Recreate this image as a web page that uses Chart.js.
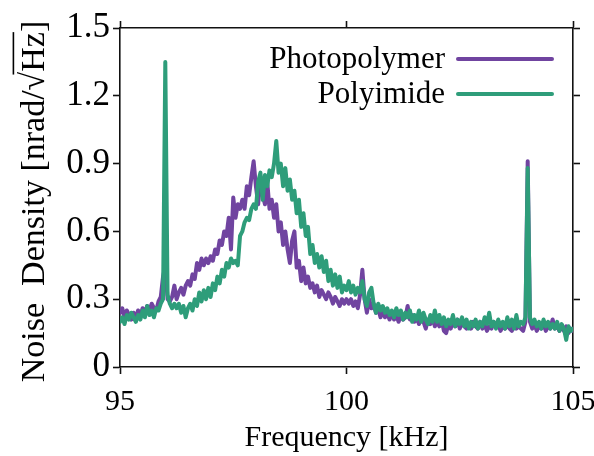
<!DOCTYPE html>
<html>
<head>
<meta charset="utf-8">
<script src="https://cdn.jsdelivr.net/npm/chart.js@4.4.1/dist/chart.umd.min.js"></script>
<style>
  html, body { margin: 0; padding: 0; background: #fff; }
  #wrap { width: 594px; height: 456px; }
</style>
</head>
<body>
<div id="wrap"><canvas id="chart" width="594" height="456"></canvas></div>
<script>
// sweep: 95 kHz .. 105 kHz in 0.05 kHz steps
const FREQ_START = 95;
const FREQ_STEP = 0.05;
const X_TICKS = [95, 100, 105];
const Y_TICKS = [0, 0.3, 0.6, 0.9, 1.2, 1.5];
const SERIES_NAMES = ['Photopolymer', 'Polyimide'];

const PHOTOPOLYMER = [
  0.24, 0.26, 0.22, 0.25, 0.23, 0.21, 0.24, 0.22, 0.25, 0.23, // 95.0
  0.26, 0.24, 0.27, 0.25, 0.28, 0.26, 0.25, 0.29, 0.31, 0.40, // 95.5
  0.45, 0.30, 0.29, 0.31, 0.36, 0.30, 0.33, 0.35, 0.32, 0.36, // 96.0
  0.38, 0.36, 0.41, 0.39, 0.46, 0.43, 0.48, 0.45, 0.48, 0.46, // 96.5
  0.49, 0.47, 0.52, 0.50, 0.56, 0.54, 0.60, 0.58, 0.66, 0.52, // 97.0
  0.75, 0.66, 0.72, 0.70, 0.74, 0.70, 0.80, 0.76, 0.84, 0.91, // 97.5
  0.80, 0.72, 0.84, 0.76, 0.72, 0.82, 0.70, 0.74, 0.66, 0.72, // 98.0
  0.60, 0.64, 0.54, 0.60, 0.52, 0.46, 0.56, 0.60, 0.44, 0.47, // 98.5
  0.38, 0.44, 0.37, 0.40, 0.35, 0.37, 0.33, 0.36, 0.31, 0.34, // 99.0
  0.32, 0.30, 0.33, 0.31, 0.28, 0.31, 0.29, 0.27, 0.30, 0.28, // 99.5
  0.30, 0.28, 0.30, 0.27, 0.29, 0.26, 0.32, 0.43, 0.30, 0.24, // 100.0
  0.30, 0.26, 0.28, 0.24, 0.26, 0.22, 0.25, 0.22, 0.24, 0.21, // 100.5
  0.24, 0.21, 0.23, 0.20, 0.23, 0.21, 0.22, 0.27, 0.21, 0.23, // 101.0
  0.20, 0.22, 0.19, 0.22, 0.20, 0.17, 0.21, 0.19, 0.22, 0.18, // 101.5
  0.20, 0.18, 0.21, 0.16, 0.15, 0.19, 0.17, 0.20, 0.18, 0.21, // 102.0
  0.17, 0.20, 0.18, 0.17, 0.19, 0.17, 0.20, 0.18, 0.17, 0.20, // 102.5
  0.17, 0.19, 0.16, 0.18, 0.17, 0.20, 0.18, 0.19, 0.16, 0.18, // 103.0
  0.17, 0.19, 0.17, 0.16, 0.19, 0.17, 0.18, 0.17, 0.16, 0.20, // 103.5
  0.91, 0.20, 0.17, 0.19, 0.16, 0.18, 0.17, 0.19, 0.16, 0.18, // 104.0
  0.17, 0.21, 0.17, 0.18, 0.16, 0.18, 0.16, 0.18, 0.15, 0.17, // 104.5
  0.16                                                        // 105.0
];

const POLYIMIDE = [
  0.20, 0.22, 0.19, 0.23, 0.21, 0.24, 0.22, 0.20, 0.23, 0.21, // 95.0
  0.25, 0.22, 0.27, 0.23, 0.25, 0.22, 0.26, 0.25, 0.28, 0.30, // 95.5
  1.35, 0.32, 0.28, 0.26, 0.28, 0.26, 0.28, 0.24, 0.27, 0.22, // 96.0
  0.26, 0.28, 0.25, 0.30, 0.27, 0.33, 0.29, 0.34, 0.30, 0.35, // 96.5
  0.31, 0.37, 0.34, 0.40, 0.37, 0.43, 0.40, 0.46, 0.44, 0.48, // 97.0
  0.46, 0.47, 0.45, 0.58, 0.60, 0.64, 0.66, 0.65, 0.70, 0.72, // 97.5
  0.70, 0.82, 0.86, 0.74, 0.85, 0.80, 0.87, 0.84, 0.90, 1.00, // 98.0
  0.86, 0.90, 0.80, 0.88, 0.78, 0.83, 0.74, 0.78, 0.68, 0.74, // 98.5
  0.62, 0.68, 0.58, 0.62, 0.50, 0.54, 0.46, 0.50, 0.44, 0.49, // 99.0
  0.42, 0.47, 0.38, 0.43, 0.36, 0.41, 0.35, 0.40, 0.33, 0.36, // 99.5
  0.34, 0.38, 0.33, 0.36, 0.32, 0.35, 0.33, 0.38, 0.30, 0.27, // 100.0
  0.33, 0.35, 0.28, 0.24, 0.28, 0.25, 0.27, 0.24, 0.26, 0.23, // 100.5
  0.25, 0.22, 0.26, 0.23, 0.25, 0.21, 0.24, 0.22, 0.25, 0.20, // 101.0
  0.23, 0.21, 0.25, 0.20, 0.24, 0.21, 0.19, 0.23, 0.20, 0.25, // 101.5
  0.20, 0.23, 0.19, 0.22, 0.18, 0.21, 0.19, 0.23, 0.18, 0.21, // 102.0
  0.19, 0.22, 0.18, 0.21, 0.17, 0.20, 0.18, 0.21, 0.17, 0.20, // 102.5
  0.18, 0.22, 0.19, 0.24, 0.18, 0.20, 0.17, 0.21, 0.18, 0.20, // 103.0
  0.17, 0.22, 0.18, 0.21, 0.17, 0.23, 0.18, 0.20, 0.19, 0.22, // 103.5
  0.88, 0.22, 0.19, 0.21, 0.18, 0.20, 0.17, 0.21, 0.18, 0.20, // 104.0
  0.17, 0.19, 0.17, 0.20, 0.16, 0.19, 0.17, 0.12, 0.18, 0.16, // 104.5
  0.17                                                        // 105.0
];

const PURPLE = '#7044a0';
const GREEN = '#2e9d7a';
const SERIF = "'Liberation Serif', 'Times New Roman', serif";
const AXIS_COLOR = '#111';

const freqs = PHOTOPOLYMER.map((_, i) => +(FREQ_START + i * FREQ_STEP).toFixed(2));
const toPoints = ys => ys.map((y, i) => ({ x: freqs[i], y }));

// plot box in canvas pixels
const BOX = { left: 120, top: 28, right: 573, bottom: 367 };

const setTicks = list => scale => { scale.ticks = list.map(v => ({ value: v })); };

// keep tick labels from pushing the plot box around
const noOverhang = s => { s.paddingLeft = 0; s.paddingRight = 0; s.paddingTop = 0; s.paddingBottom = 0; };

function frameScale(extra) {
  return Object.assign({
    border: { display: true, color: AXIS_COLOR, width: 1.6 },
    grid: { display: true, drawOnChartArea: false, drawTicks: true, tickLength: 7, tickColor: AXIS_COLOR, tickWidth: 1.6 },
  }, extra);
}

// y title with the radical overline over Hz
const yTitlePlugin = {
  id: 'yTitle',
  afterDraw(chart) {
    const { ctx, chartArea } = chart;
    const size = 34;
    const pre = 'Noise  Density [nrad/';
    const rad = '\u221A';
    const hz = 'Hz';
    const post = ']';
    ctx.save();
    ctx.font = `${size}px ${SERIF}`;
    const wPre = ctx.measureText(pre).width;
    const wRad = ctx.measureText(rad).width;
    const wHz = ctx.measureText(hz).width;
    const total = ctx.measureText(pre + rad + hz + post).width;
    ctx.translate(44, (chartArea.top + chartArea.bottom) / 2 + 4);
    ctx.rotate(-Math.PI / 2);
    ctx.textAlign = 'left';
    ctx.textBaseline = 'alphabetic';
    ctx.fillStyle = '#000';
    const x0 = -total / 2;
    ctx.fillText(pre + rad + hz + post, x0, 0);
    ctx.strokeStyle = '#000';
    ctx.lineWidth = 1.6;
    ctx.beginPath();
    ctx.moveTo(x0 + wPre + wRad * 0.85, -0.9 * size);
    ctx.lineTo(x0 + wPre + wRad + wHz, -0.9 * size);
    ctx.stroke();
    ctx.restore();
  }
};

// legend: text right-aligned, line sample to its right
const legendPlugin = {
  id: 'sideLegend',
  afterDraw(chart) {
    const { ctx, chartArea } = chart;
    const lineEnd = chartArea.right - 21;
    const lineStart = lineEnd - 94;
    const colors = [PURPLE, GREEN];
    ctx.save();
    ctx.font = `31px ${SERIF}`;
    ctx.textAlign = 'right';
    ctx.textBaseline = 'middle';
    SERIES_NAMES.forEach((name, i) => {
      const y = chartArea.top + 31 + i * 35;
      ctx.fillStyle = '#000';
      ctx.fillText(name, lineStart - 13, y + 1);
      ctx.strokeStyle = colors[i];
      ctx.lineWidth = 4;
      ctx.lineCap = 'round';
      ctx.beginPath();
      ctx.moveTo(lineStart, y);
      ctx.lineTo(lineEnd, y);
      ctx.stroke();
    });
    ctx.restore();
  }
};

new Chart(document.getElementById('chart'), {
  type: 'line',
  data: {
    datasets: [
      { label: SERIES_NAMES[0], data: toPoints(PHOTOPOLYMER), borderColor: PURPLE, order: 1 },
      { label: SERIES_NAMES[1], data: toPoints(POLYIMIDE), borderColor: GREEN, order: 0 },
    ],
  },
  options: {
    responsive: false,
    animation: false,
    layout: { padding: 0 },
    elements: {
      line: { borderWidth: 4, tension: 0, borderJoinStyle: 'round', borderCapStyle: 'round', fill: false },
      point: { radius: 0 },
    },
    plugins: { legend: { display: false }, tooltip: { enabled: false }, title: { display: false } },
    scales: {
      x: frameScale({
        type: 'linear', position: 'bottom', min: 95, max: 105,
        afterBuildTicks: setTicks(X_TICKS),
        afterFit: s => { s.height = 456 - BOX.bottom; noOverhang(s); },
        ticks: { color: '#000', padding: 10, font: { family: SERIF, size: 30 }, maxRotation: 0 },
        title: { display: true, text: 'Frequency [kHz]', color: '#000', font: { family: SERIF, size: 30 }, padding: { top: 0, bottom: 0 } },
      }),
      x2: frameScale({
        type: 'linear', position: 'top', min: 95, max: 105,
        afterBuildTicks: setTicks(X_TICKS),
        afterFit: s => { s.height = BOX.top; noOverhang(s); },
        ticks: { display: false },
      }),
      y: frameScale({
        type: 'linear', position: 'left', min: 0, max: 1.5,
        afterBuildTicks: setTicks(Y_TICKS),
        afterFit: s => { s.width = BOX.left; noOverhang(s); },
        ticks: { color: '#000', padding: 3, font: { family: SERIF, size: 35 }, callback: v => String(+v.toFixed(1)) },
      }),
      y2: frameScale({
        type: 'linear', position: 'right', min: 0, max: 1.5,
        afterBuildTicks: setTicks(Y_TICKS),
        afterFit: s => { s.width = 594 - BOX.right; noOverhang(s); },
        ticks: { display: false },
      }),
    },
  },
  plugins: [yTitlePlugin, legendPlugin],
});
</script>
</body>
</html>
